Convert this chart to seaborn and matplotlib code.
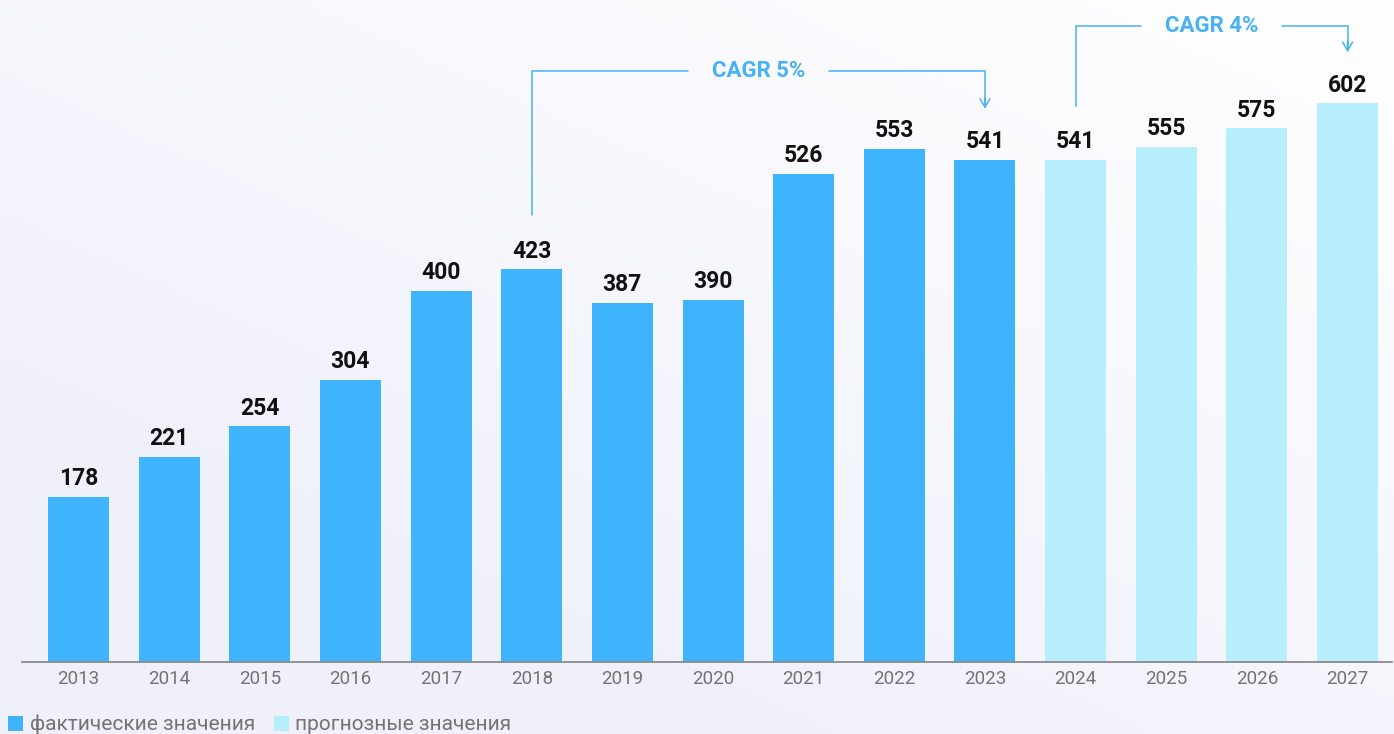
import numpy as np
import pandas as pd
import matplotlib
matplotlib.use("Agg")
import matplotlib.pyplot as plt
import seaborn as sns
from matplotlib.patches import Patch

# Market volume by year
years = ["2013", "2014", "2015", "2016", "2017", "2018", "2019", "2020",
         "2021", "2022", "2023", "2024", "2025", "2026", "2027"]
values = [178, 221, 254, 304, 400, 423, 387, 390, 526, 553, 541, 541, 555, 575, 602]
kinds = ["факт"] * 11 + ["прогноз"] * 4
legend_labels = ["фактические значения", "прогнозные значения"]

# CAGR brackets: (start year, end year, label)
cagr_spans = [("2018", "2023", "CAGR 5%"), ("2024", "2027", "CAGR 4%")]

ACTUAL = "#3fb4fc"
FORECAST = "#b6eefc"
ACCENT = "#45b2f5"

sns.set_theme(style="white")
plt.rcParams["font.family"] = ["Roboto", "DejaVu Sans"]

df = pd.DataFrame({"year": years, "value": values, "kind": kinds})

fig = plt.figure(figsize=(13.94, 7.34), dpi=100)

# soft lavender background wash
bg = fig.add_axes([0, 0, 1, 1], zorder=-10)
gx, gy = np.meshgrid(np.linspace(0, 1, 200), np.linspace(0, 1, 200))
t = np.clip((1 - gx) * 0.6 + gy * 0.7, 0, 1)
c0 = np.array([1.0, 1.0, 1.0])
c1 = np.array([0.935, 0.935, 0.985])
img = c0[None, None, :] * (1 - t[..., None] * 0.9) + c1[None, None, :] * (t[..., None] * 0.9)
bg.imshow(img, aspect="auto", extent=[0, 1, 0, 1], origin="upper")
bg.set_axis_off()

ax = fig.add_axes([22 / 1394, 72 / 734, 1370 / 1394, 662 / 734])
ax.patch.set_alpha(0)

sns.barplot(data=df, x="year", y="value", hue="kind",
            palette={"факт": ACTUAL, "прогноз": FORECAST},
            dodge=False, width=0.673, saturation=1, legend=False,
            linewidth=0, ax=ax)

ax.set_xlim(-0.623, 14.49)
ax.set_ylim(0, 713)
ax.set_xlabel("")
ax.set_ylabel("")
ax.set_yticks([])
for side in ["left", "right", "top"]:
    ax.spines[side].set_visible(False)
ax.spines["bottom"].set_color("#8a8a8a")
ax.spines["bottom"].set_linewidth(1.3)
ax.tick_params(axis="x", length=0, pad=6, labelsize=13.5, labelcolor="#737373")

# value labels
for i, v in enumerate(values):
    ax.text(i, v + 7, f"{v}", ha="center", va="bottom",
            fontsize=16.5, fontweight="bold", color="#111111")

# CAGR brackets
gap = 0.78
for y0, y1, label in cagr_spans:
    i0, i1 = years.index(y0), years.index(y1)
    seg = values[i0:i1 + 1]
    level = max(seg) + 83
    start = values[i0] + 58
    end = values[i1] + 55
    mid = (i0 + i1) / 2
    line_kw = dict(color=ACCENT, lw=1.1, solid_joinstyle="miter", zorder=3)
    ax.plot([i0, i0, mid - gap], [start, level, level], **line_kw)
    ax.plot([mid + gap, i1, i1], [level, level, end + 2], **line_kw)
    ax.annotate("", xy=(i1, end), xytext=(i1, end + 12),
                arrowprops=dict(arrowstyle="->,head_length=0.5,head_width=0.3",
                                color=ACCENT, lw=1.1, shrinkA=0, shrinkB=0), zorder=3)
    ax.text(mid, level, label, ha="center", va="center",
            fontsize=16, fontweight="bold", color=ACCENT, zorder=4)

handles = [Patch(facecolor=ACTUAL, edgecolor="none"),
           Patch(facecolor=FORECAST, edgecolor="none")]
fig.legend(handles, legend_labels, loc="lower left", bbox_to_anchor=(0.0, -0.012),
           ncol=2, frameon=False, fontsize=15, handlelength=0.72, handleheight=0.72,
           handletextpad=0.3, columnspacing=0.9, labelcolor="#737373",
           borderaxespad=0.2, borderpad=0.2)

fig.savefig("out.png", dpi=100)
